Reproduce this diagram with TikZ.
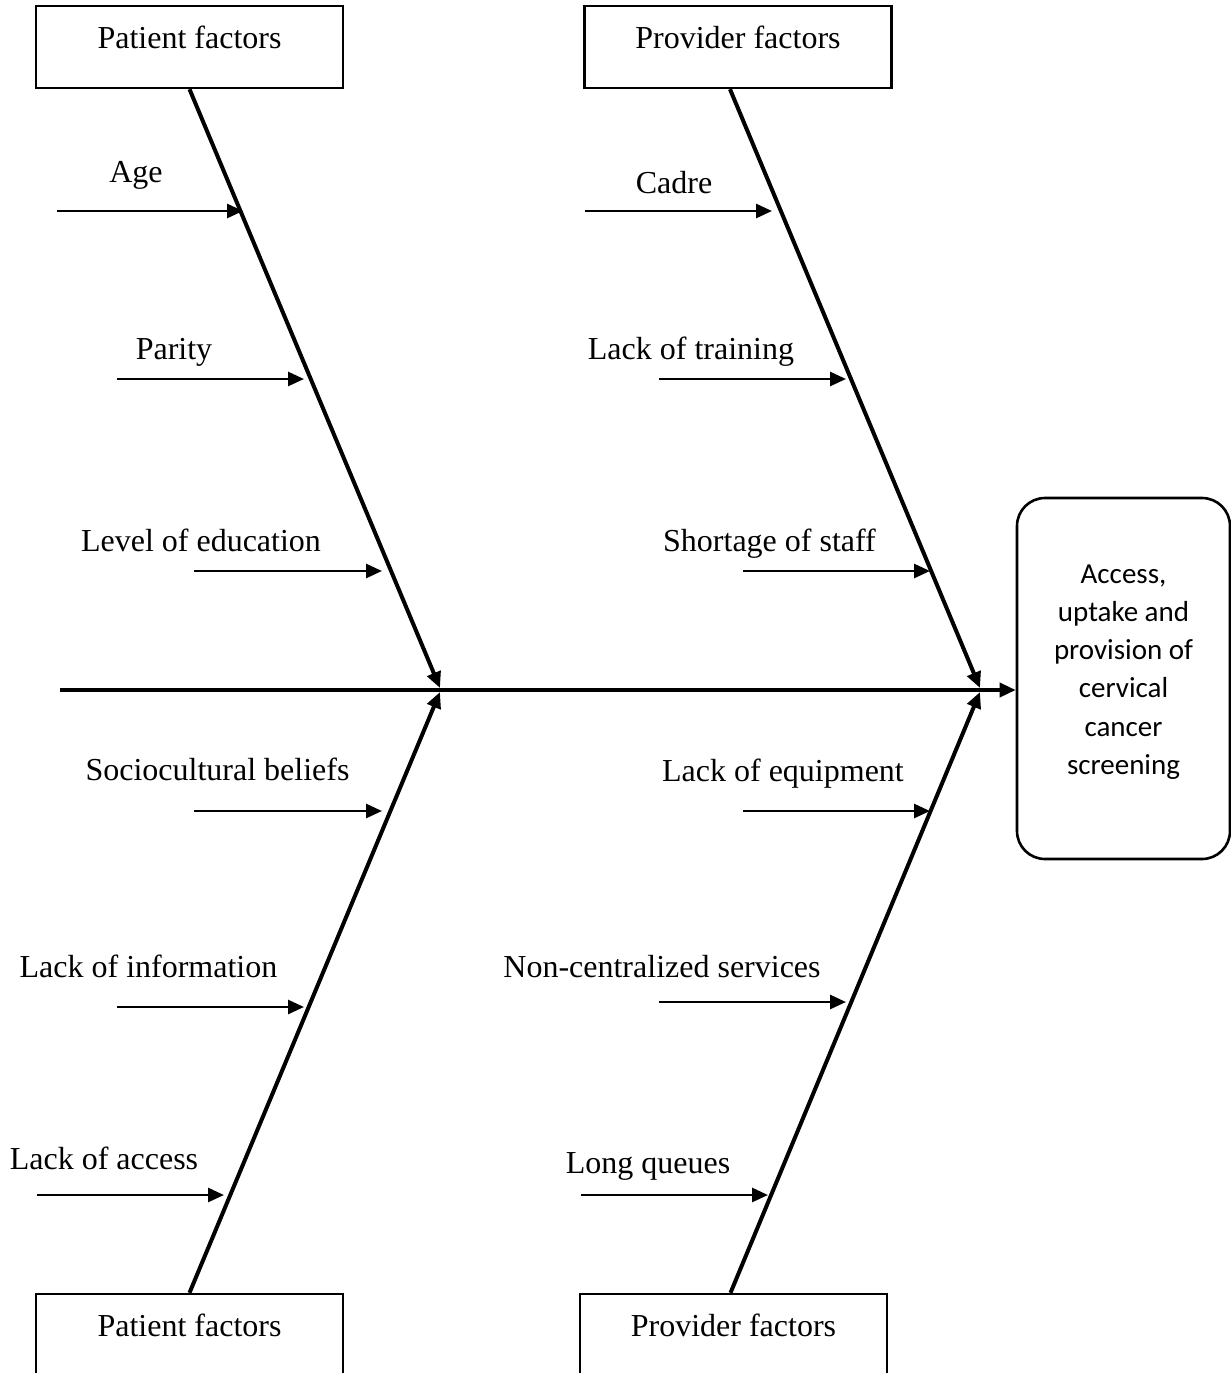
\documentclass[tikz,border=0pt]{standalone}
\usepackage{fontspec}
\setmainfont{Liberation Serif}
\newfontfamily\calfont{Carlito}
\usetikzlibrary{arrows.meta}
\begin{document}
\begin{tikzpicture}[x=1pt,y=-1pt,
  box/.style={draw, line width=2.4pt, minimum width=307pt, minimum height=82pt, inner sep=0pt,
    text height=21pt, text depth=19pt, font=\fontsize{32}{38}\selectfont},
  lbl/.style={anchor=base, inner sep=0pt, font=\fontsize{32}{38}\selectfont},
  outbox/.style={draw, line width=2.6pt, rounded corners=28pt, minimum width=213pt,
    minimum height=361pt, inner sep=0pt, align=center, text depth=18pt,
    font=\calfont\fontsize{29}{38.3}\selectfont},
  bone/.style={line width=4pt, -{Triangle[length=16pt,width=14pt]}},
  spine/.style={line width=3.6pt, -{Triangle[length=16pt,width=14pt]}},
  sub/.style={line width=2.8pt, -{Triangle[length=16pt,width=14pt]}},
]
\useasboundingbox (0,0) rectangle (1231,1373);

% category boxes
\node[box] (pt)  at (189.5,47)  {Patient factors};
\node[box] (prt) at (738,47)    {Provider factors};
\node[box] (pb)  at (189.5,1335) {Patient factors};
\node[box] (prb) at (733.5,1335) {Provider factors};

% effect box
\node[outbox] (out) at (1123.5,678.5) {Access,\\uptake and\\provision of\\cervical\\cancer\\screening};

% spine
\coordinate (s0) at (60,690);
\draw[spine] (s0) -- (s0 -| out.west);

% bones
\coordinate (jLt) at (440,688);
\coordinate (jLb) at (440,692);
\coordinate (jRt) at (980,688);
\coordinate (jRb) at (980,692);
\draw[bone] (pt.south) -- (jLt);
\draw[bone] (pb.north) -- (jLb);
\draw[bone] ([xshift=-8pt]prt.south) -- (jRt);
\draw[bone] ([xshift=-3pt]prb.north) -- (jRb);

% causes
\foreach \n/\xa/\xb/\y/\lx/\ly/\t in {
  age/57/243/211/136/182/Age,
  par/117/304/379/174/359/Parity,
  edu/194/382/571/201/551/Level of education,
  soc/194/382/811/217.5/780/Sociocultural beliefs,
  inf/117/304/1007/148.5/977/Lack of information,
  acc/37/224/1195/104/1169/Lack of access,
  cad/585/772/211/674/193/Cadre,
  tra/659/846/379/691/359/Lack of training,
  sta/743/930/571/769.5/551/Shortage of staff,
  equ/743/930/811/783/781/Lack of equipment,
  ser/659/846/1002/662/977/Non-centralized services,
  que/581/768/1195/648/1173/Long queues}{
  \coordinate (a\n) at (\xa,\y);
  \coordinate (b\n) at (\xb,\y);
  \draw[sub] (a\n) -- (b\n);
  \node[lbl] (l\n) at (\lx,\ly) {\t};
}
\end{tikzpicture}
\end{document}
